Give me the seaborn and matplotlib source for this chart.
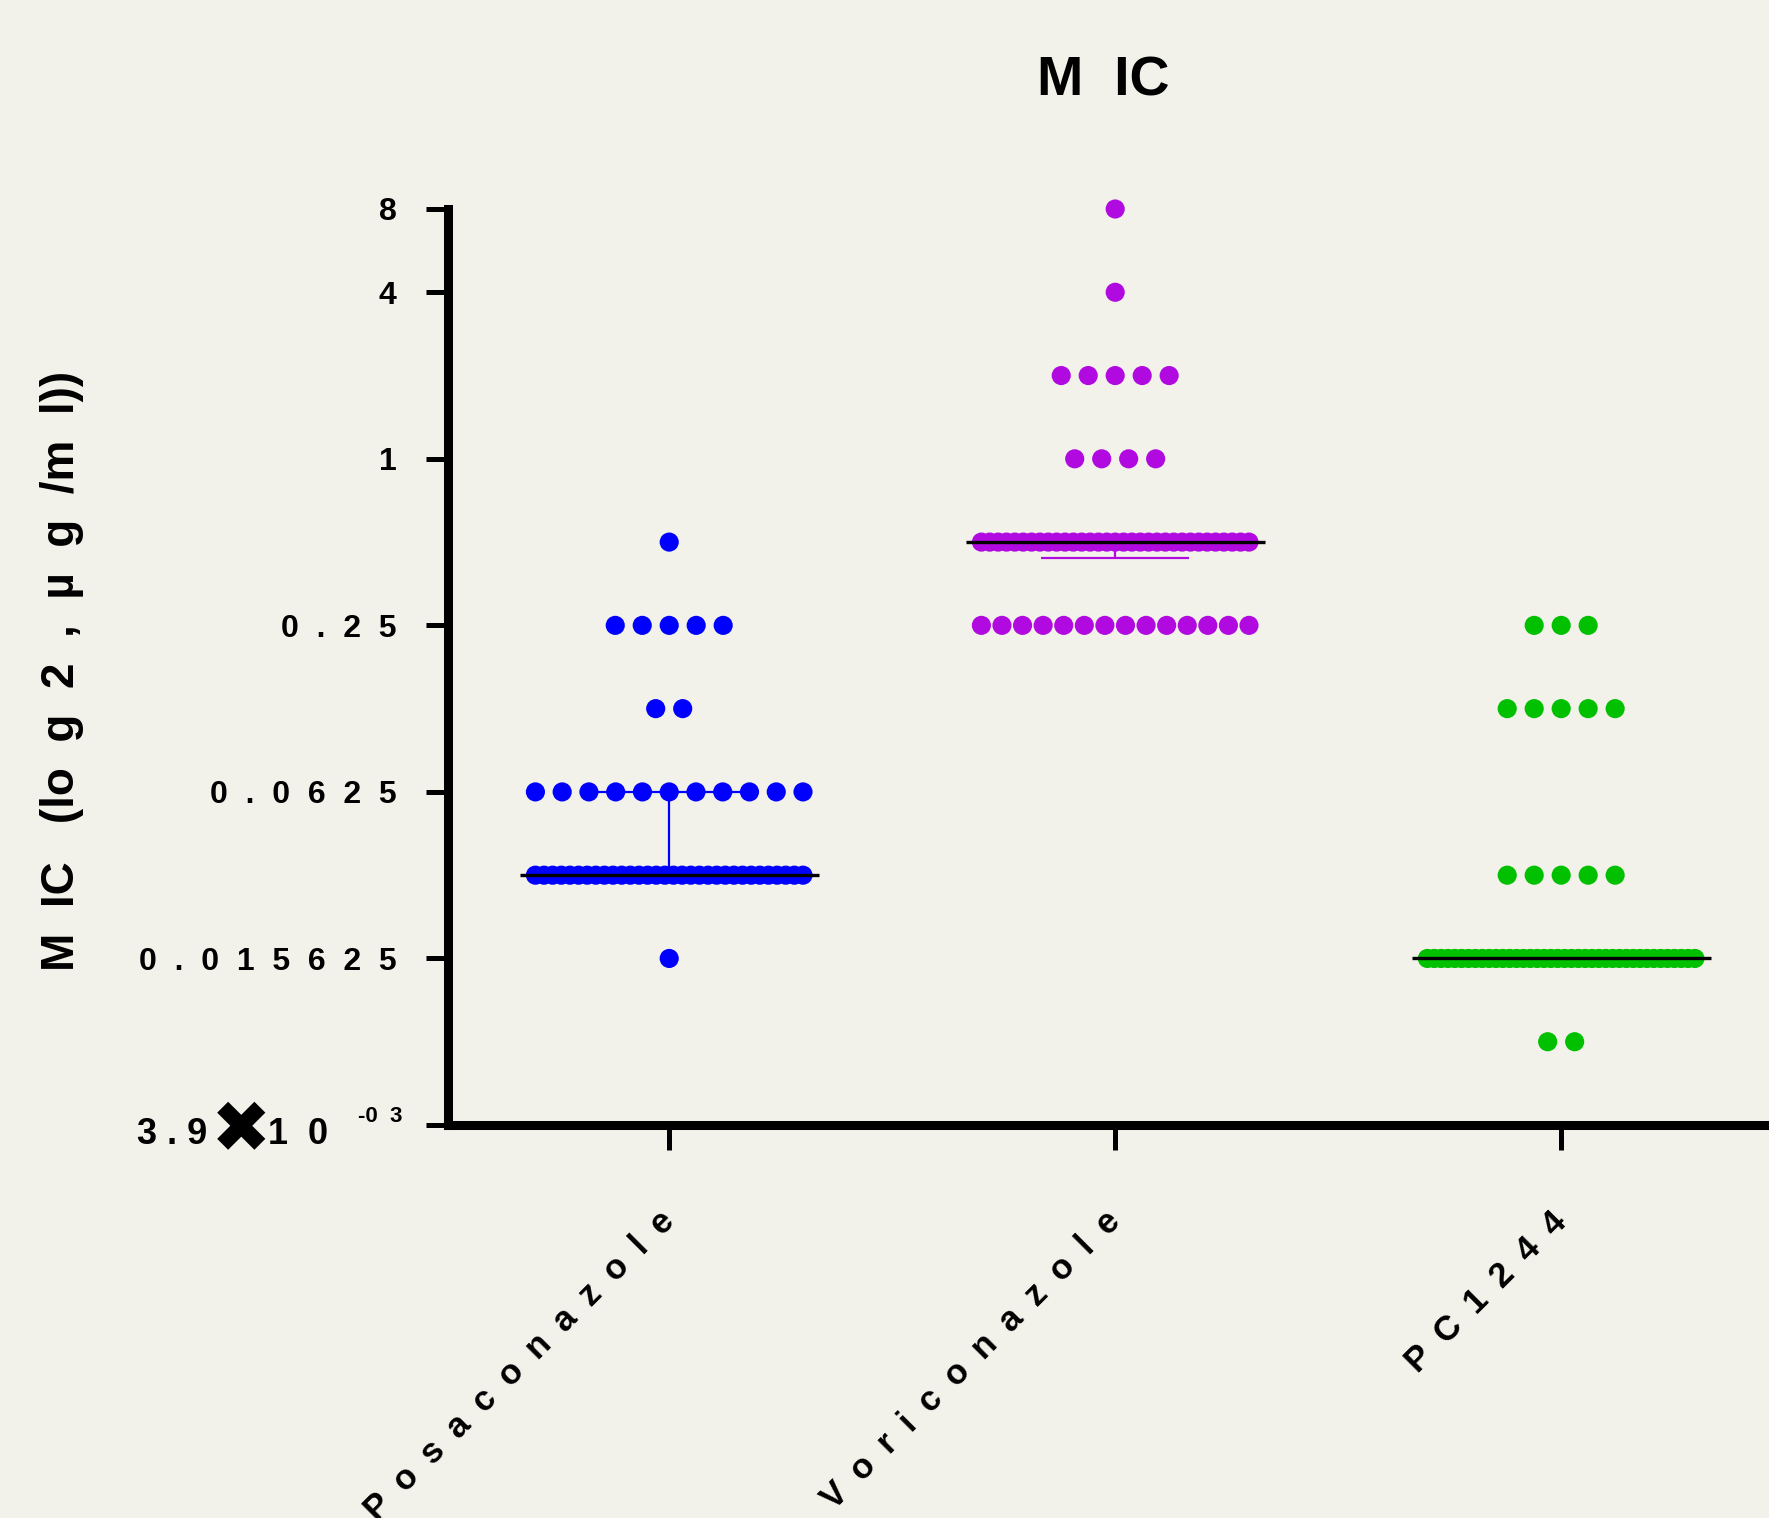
import numpy as np
import pandas as pd
import matplotlib
matplotlib.use("Agg")
import matplotlib.pyplot as plt
import matplotlib.transforms as mtransforms
import seaborn as sns

# MIC data (number of isolates at each MIC level, ug/ml)
drugs = ["Posaconazole", "Voriconazole", "PC1244"]
mic_levels = [8, 4, 2, 1, 0.5, 0.25, 0.125, 0.0625, 0.03125, 0.015625, 0.0078125]
posaconazole_n = [0, 0, 0, 0, 1, 5, 2, 11, 32, 1, 0]
voriconazole_n = [1, 1, 5, 4, 33, 14, 0, 0, 0, 0, 0]
pc1244_n = [0, 0, 0, 0, 0, 3, 5, 0, 5, 40, 2]
colors = ["#0000ff", "#b10ae0", "#00c000"]

ytick_values = [2**-8, 2**-6, 2**-4, 2**-2, 1, 4, 8]
ytick_labels = ["", "0.015625", "0.0625", "0.25", "1", "4", "8"]

bg = "#f3f2ea"


def spaced(s, sep="  "):
    return sep.join(s)


# lay the dots out in rows like a scatter-dot plot
rows = []
for i, (drug, counts) in enumerate(zip(drugs, [posaconazole_n, voriconazole_n, pc1244_n])):
    for mic, k in zip(mic_levels, counts):
        if k == 0:
            continue
        step = 0.0605 if k == 1 else min(0.0605, 0.6 / (k - 1))
        offs = (np.arange(k) - (k - 1) / 2) * step
        for o in offs:
            rows.append({"drug": drug, "x": i + o, "mic": mic})
df = pd.DataFrame(rows)

sns.set_theme(style="ticks")
plt.rcParams["font.family"] = ["Liberation Sans", "DejaVu Sans"]
plt.rcParams["font.weight"] = "bold"
plt.rcParams["text.color"] = "black"
plt.rcParams["xtick.color"] = "black"
plt.rcParams["ytick.color"] = "black"

fig = plt.figure(figsize=(17.69, 15.18), dpi=100, facecolor=bg)
ax = fig.add_axes([448 / 1769, 1 - 1125 / 1518, 1 - 448 / 1769, 916 / 1518])
ax.set_facecolor(bg)

# median + interquartile range
for i, (drug, counts) in enumerate(zip(drugs, [posaconazole_n, voriconazole_n, pc1244_n])):
    vals = np.repeat(mic_levels, counts)
    q1, med, q3 = np.percentile(vals, [25, 50, 75], method="weibull")
    ax.errorbar(i, med, yerr=[[med - q1], [q3 - med]], fmt="none", ecolor=colors[i],
                elinewidth=1.6, capsize=53, capthick=1.6, zorder=2)
    ax.hlines(med, i - 0.335, i + 0.335, color="black", lw=2.4, zorder=4)

sns.scatterplot(data=df, x="x", y="mic", hue="drug", palette=colors, s=190,
                linewidth=0, legend=False, ax=ax, zorder=3, clip_on=False)

ax.set_yscale("log", base=2)
ax.set_ylim(2**-8, 8)
ax.set_xlim(-0.496, 2.466)
ax.yaxis.set_minor_locator(matplotlib.ticker.NullLocator())
ax.set_yticks(ytick_values)
ax.set_yticklabels([spaced(t) for t in ytick_labels], fontsize=23, fontweight="bold")
ax.set_xticks(range(len(drugs)))
ax.set_xticklabels([spaced(d, "\u2002") for d in drugs], fontsize=25, fontweight="bold",
                   rotation=45, ha="right", va="center", rotation_mode="anchor")
ax.set_xlabel("")
ax.set_ylabel("")

# y tick labels sit a little under their ticks
shift = mtransforms.ScaledTranslation(0, -4 / 100, fig.dpi_scale_trans)
for lab in ax.get_yticklabels():
    lab.set_transform(lab.get_transform() + shift)

for side in ["top", "right"]:
    ax.spines[side].set_visible(False)
for side in ["left", "bottom"]:
    ax.spines[side].set_linewidth(6.5)
    ax.spines[side].set_color("black")
ax.tick_params(axis="y", length=16, width=3.6, pad=21)
ax.tick_params(axis="x", length=18, width=3.6, pad=48)

# bottom tick label 3.9x10^-03
ytr = ax.get_yaxis_transform()
ax.text(-0.1824, 2**(-8.12), "3 . 9", transform=ytr, ha="right", va="center",
        fontsize=26, fontweight="bold", clip_on=False)
ax.text(-0.1567, 2**(-8.1), "\u2716", transform=ytr, ha="center", va="center",
        fontsize=52, fontweight="bold", clip_on=False)
ax.text(-0.1362, 2**(-8.12), "1  0", transform=ytr, ha="left", va="center",
        fontsize=26, fontweight="bold", clip_on=False)
ax.text(-0.0348, 2**(-7.9), "-0  3", transform=ytr, ha="right", va="center",
        fontsize=16, fontweight="bold", clip_on=False)

fig.text(1103 / 1769, 1 - 81 / 1518, "M  IC", ha="center", va="center",
         fontsize=40, fontweight="bold")
fig.text(62 / 1769, 1 - 671 / 1518, "M  IC   (lo  g  2  ,  \u00b5  g  /m  l))",
         rotation=90, ha="center", va="center", fontsize=33, fontweight="bold")

fig.savefig("out.png", dpi=100, facecolor=bg)
